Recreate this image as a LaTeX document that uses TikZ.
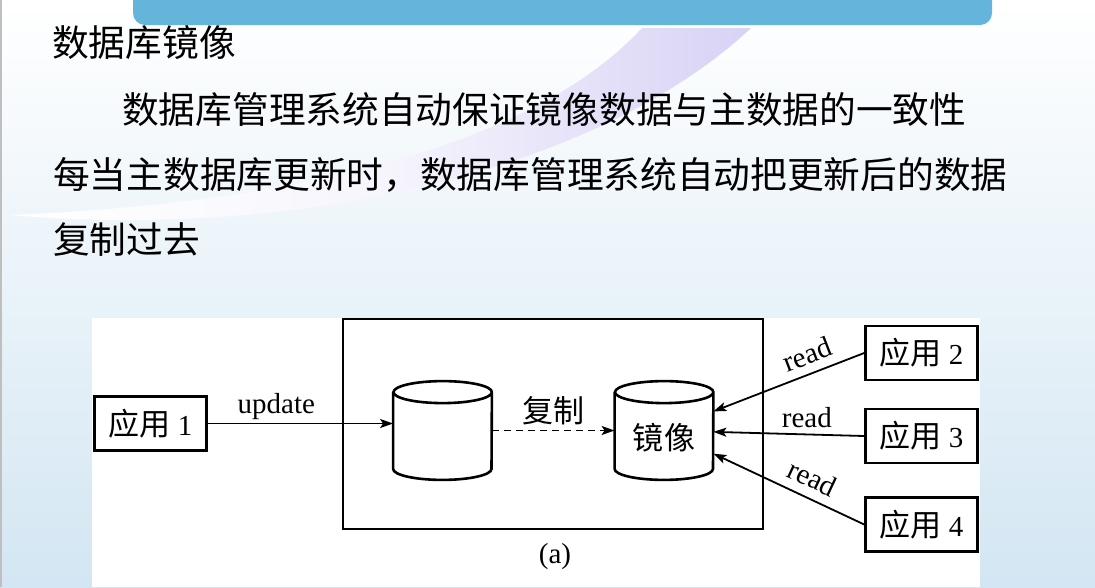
\documentclass[tikz,border=0pt]{standalone}
\usepackage{fontspec}
\setmainfont{Liberation Serif}
\newfontfamily\cjk{Noto Sans CJK SC}
\newfontfamily\figcjk{Noto Sans CJK SC}[Scale=1.07]
\usetikzlibrary{arrows.meta}
\definecolor{barblue}{RGB}{100,180,220}
\definecolor{bgblue}{RGB}{211,230,243}
\definecolor{swoosh}{RGB}{216,210,245}

\begin{document}
\begin{tikzpicture}[x=1pt, y=-1pt,
    slidetext/.style={anchor=west, inner sep=0pt, font=\cjk\fontsize{36.7}{44}\selectfont},
    appbox/.style={shape=rectangle, draw=black, line width=2.6pt, fill=white, inner sep=0pt,
        minimum width=112pt, minimum height=54pt, font=\fontsize{29}{34}\selectfont},
    dbnode/.style={shape=rectangle, inner sep=0pt, minimum width=98.4pt, minimum height=98.4pt},
    cylline/.style={draw=black, line width=2.6pt},
    link/.style={-{Stealth[length=13pt,width=9pt,inset=3pt]}, line width=1.8pt},
    lbl/.style={font=\fontsize{29}{34}\selectfont, inner sep=3pt}]
    \useasboundingbox (0,0) rectangle (1095,587);
    \shade[top color=white, bottom color=bgblue] (0,0) rectangle (1095,587);
    \shade[left color=white, right color=swoosh, middle color=swoosh!22]
        (642,28) .. controls (520,160) and (250,205) .. (10,215)
        .. controls (300,240) and (600,170) .. (751,28) -- cycle;
    \draw[black!25, line width=1.5pt] (0.75,0) -- (0.75,587);
    \fill[barblue, rounded corners=12pt] (133,-20) rectangle (992,25);
    \node[slidetext] at (52,43) (title) {数据库镜像};
    \node[slidetext] at (122,110) (line1) {数据库管理系统自动保证镜像数据与主数据的一致性};
    \node[slidetext] at (53,175) (line2) {每当主数据库更新时，数据库管理系统自动把更新后的数据};
    \node[slidetext] at (53,240) (line3) {复制过去};
    \fill[white] (92,318) rectangle (980,587);
    \node[draw=black, line width=2.6pt, minimum width=420pt, minimum height=210pt] at (553,424) (dbms) {};
    \node[appbox] at (150.5,423.5) (app1) {{\figcjk 应用} 1};
    \node[appbox] at (921.5,353) (app2) {{\figcjk 应用} 2};
    \node[appbox] at (921.5,436) (app3) {{\figcjk 应用} 3};
    \node[appbox] at (921.5,524.5) (app4) {{\figcjk 应用} 4};
    \node[dbnode] at (442.5,430.5) (db1) {};
    \node[dbnode, label={[lbl, yshift=-7.5pt]center:{\figcjk 镜像}}] at (664,430.5) (db2) {};
    \foreach \db in {db1,db2}
        \draw[cylline] ([yshift=-11pt]\db.north west) -- ([yshift=11pt]\db.south west)
            arc[start angle=180, end angle=360, x radius=49.2pt, y radius=11pt]
            -- ([yshift=-11pt]\db.north east)
            arc[start angle=0, end angle=360, x radius=49.2pt, y radius=11pt];
    \path[link] (app1.east) edge node[lbl, above, pos=0.37] {update} (app1.east -| db1.west);
    \path[link, dashed, dash pattern=on 7pt off 5pt] (db1.east) edge node[lbl, above=2pt] {\figcjk 复制} (db2.west);
    \path[link] (app2.west) edge node[lbl, above=5pt, sloped, pos=0.33] {read} (db2);
    \path[link] (app3.west) edge node[lbl, above=3pt, pos=0.38] {read} (db2);
    \path[link] (app4.west) edge node[lbl, above=6pt, sloped, pos=0.40] {read} (db2);
    \node[lbl] at (555,557) (cap) {(a)};
\end{tikzpicture}
\end{document}
